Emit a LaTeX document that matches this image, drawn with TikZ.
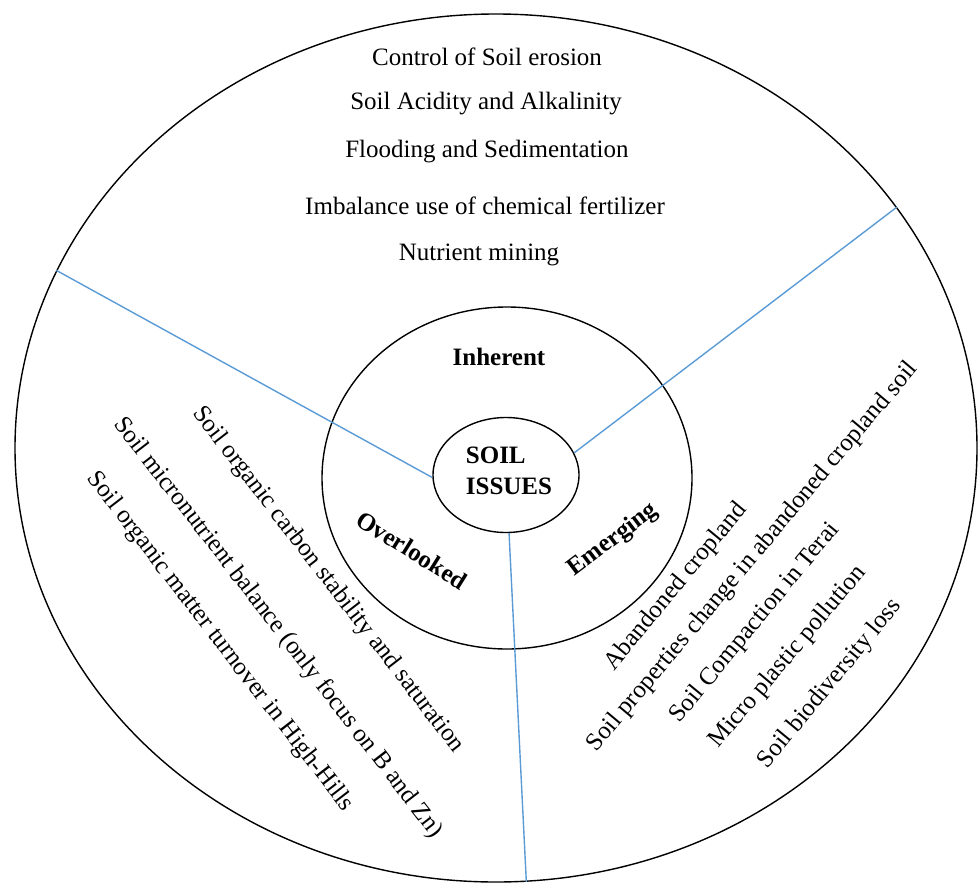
\documentclass[tikz,border=0pt]{standalone}
\usepackage{fontspec}
\setmainfont{Liberation Serif}
\usetikzlibrary{shapes.geometric}
\definecolor{splitblue}{RGB}{91,155,213}

\begin{document}
\begin{tikzpicture}[x=0.5pt, y=-0.5pt,
    ring/.style={draw, ellipse, inner sep=0pt, line width=0.7pt},
    issue/.style={font=\fontsize{12.5}{14}\selectfont, inner sep=0pt},
    group/.style={font=\fontsize{12.5}{15.5}\selectfont\bfseries, inner sep=0pt, align=left},
    split/.style={draw=splitblue, line width=0.7pt}]
    \useasboundingbox (0,0) rectangle (979,883);
    \node[ring, minimum width=481pt, minimum height=434pt] (outer) at (496,448) {};
    \node[ring, minimum width=185pt, minimum height=171pt] (middle) at (507,478) {};
    \node[ring, minimum width=73pt, minimum height=57.5pt] (core) at (506,475) {};
    \node[group] (soil) at (509,471) {SOIL\\ISSUES};
    % sector borders
    \draw[split] (core.182) -- (outer.158.9);
    \draw[split] (core.18) -- (outer.31.9);
    \draw[split] (core.-87) -- (outer.-86.2);
    % group names
    \node[group] (inherent) at (499,357) {Inherent};
    \node[group, rotate=-32] (overlooked) at (412,550) {Overlooked};
    \node[group, rotate=37] (emerging) at (613,540) {Emerging};
    % inherent issues
    \node[issue] (erosion) at (487,57) {Control of Soil erosion};
    \node[issue] (acidity) at (486,104) {Soil Acidity and Alkalinity};
    \node[issue] (flooding) at (487,152) {Flooding and Sedimentation};
    \node[issue] (fertilizer) at (485,206) {Imbalance use of chemical fertilizer};
    \node[issue] (mining) at (479,255) {Nutrient mining};
    % overlooked issues
    \node[issue, rotate=-52.4] (carbon) at (328,580) {Soil organic carbon stability and saturation};
    \node[issue, rotate=-52.4] (micro) at (278,628) {Soil micronutrient balance (only focus on B and Zn)};
    \node[issue, rotate=-52.4] (matter) at (220,642) {Soil organic matter turnover in High-Hills};
    % emerging issues
    \node[issue, rotate=50.5] (abandoned) at (676,587) {Abandoned cropland};
    \node[issue, rotate=50] (properties) at (753,557) {Soil properties change in abandoned cropland soil};
    \node[issue, rotate=50.5] (compaction) at (755,623) {Soil Compaction in Terai};
    \node[issue, rotate=50] (plastic) at (788,657) {Micro plastic pollution};
    \node[issue, rotate=50.5] (biodiv) at (830,684) {Soil biodiversity loss};
\end{tikzpicture}
\end{document}
